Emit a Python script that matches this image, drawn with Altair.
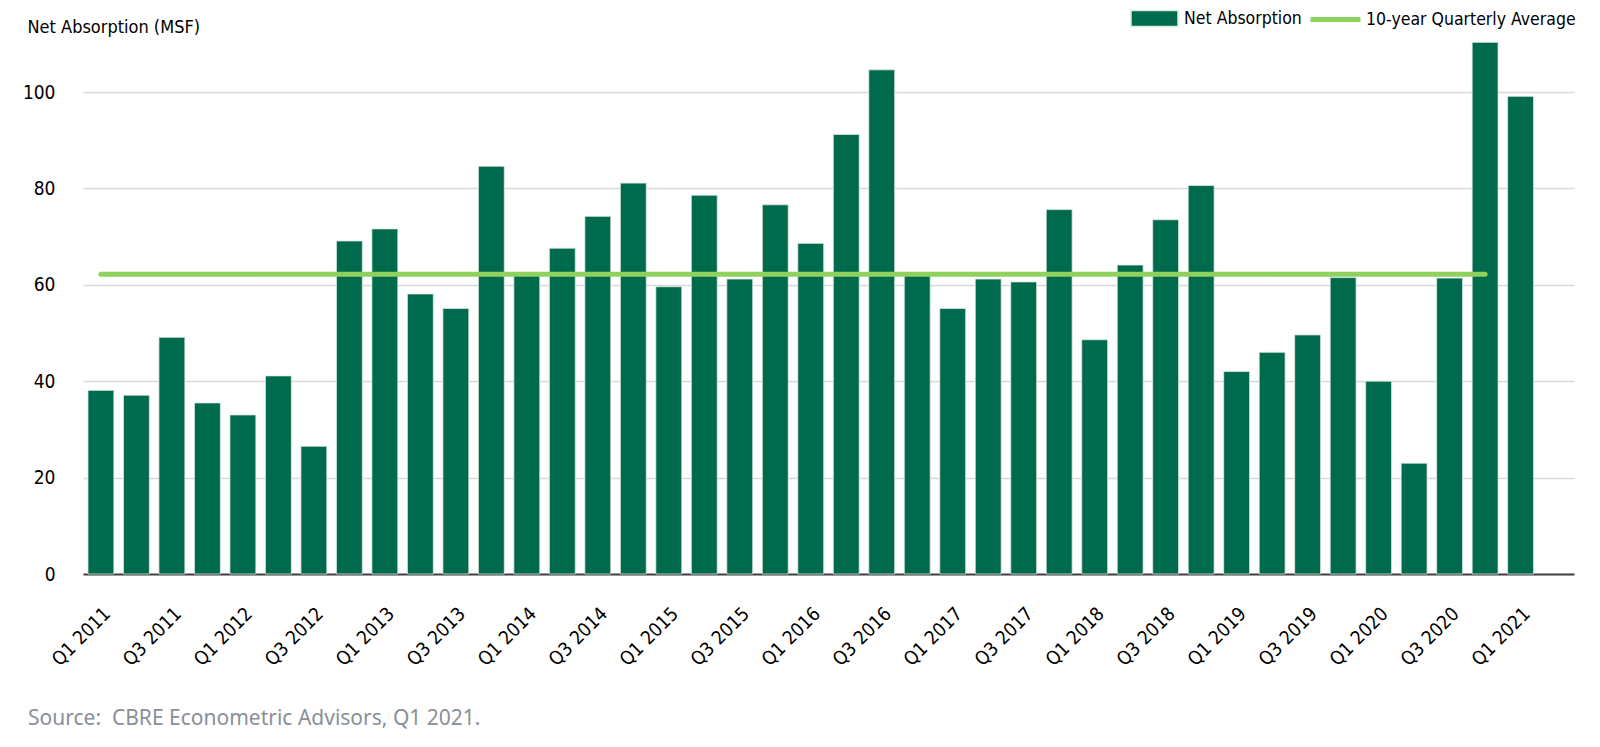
import altair as alt
import pandas as pd

quarters = [
    "Q1 2011", "Q2 2011", "Q3 2011", "Q4 2011",
    "Q1 2012", "Q2 2012", "Q3 2012", "Q4 2012",
    "Q1 2013", "Q2 2013", "Q3 2013", "Q4 2013",
    "Q1 2014", "Q2 2014", "Q3 2014", "Q4 2014",
    "Q1 2015", "Q2 2015", "Q3 2015", "Q4 2015",
    "Q1 2016", "Q2 2016", "Q3 2016", "Q4 2016",
    "Q1 2017", "Q2 2017", "Q3 2017", "Q4 2017",
    "Q1 2018", "Q2 2018", "Q3 2018", "Q4 2018",
    "Q1 2019", "Q2 2019", "Q3 2019", "Q4 2019",
    "Q1 2020", "Q2 2020", "Q3 2020", "Q4 2020",
    "Q1 2021",
]
# the category axis keeps one empty slot after the last quarter
x_domain = quarters + ["Q2 2021"]

net_absorption = [
    38.1, 37.1, 49.1, 35.5, 33.0, 41.1, 26.5, 69.1, 71.6, 58.1,
    55.1, 84.6, 62.0, 67.6, 74.2, 81.1, 59.6, 78.6, 61.2, 76.6,
    68.6, 91.2, 104.6, 62.0, 55.1, 61.2, 60.6, 75.6, 48.6, 64.1,
    73.5, 80.6, 42.0, 46.0, 49.6, 61.5, 40.0, 23.0, 61.4, 110.3,
    99.1,
]

avg_quarters = quarters[:40]
avg_values = [62.2] * 40

tick_labels = [
    "Q1 2011", "Q3 2011", "Q1 2012", "Q3 2012", "Q1 2013", "Q3 2013",
    "Q1 2014", "Q3 2014", "Q1 2015", "Q3 2015", "Q1 2016", "Q3 2016",
    "Q1 2017", "Q3 2017", "Q1 2018", "Q3 2018", "Q1 2019", "Q3 2019",
    "Q1 2020", "Q3 2020", "Q1 2021",
]
y_ticks = [0, 20, 40, 60, 80, 100]

bar_name = "Net Absorption"
avg_name = "10-year Quarterly Average"
source_text = "Source:\u00a0 CBRE Econometric Advisors, Q1 2021."

bars_df = pd.DataFrame({"quarter": quarters, "value": net_absorption, "series": bar_name})
avg_df = pd.DataFrame({"quarter": avg_quarters, "value": avg_values, "series": avg_name})

FONT = "DejaVu Sans Condensed, Roboto, sans-serif"
DARK = "#006a4d"
LIGHT = "#8fd15e"

x_enc = alt.X(
    "quarter:N",
    sort=x_domain,
    scale=alt.Scale(domain=x_domain, paddingInner=0.27, paddingOuter=0.14),
    axis=alt.Axis(
        values=tick_labels,
        labelAngle=-45,
        labelAlign="right",
        labelBaseline="top",
        labelFontSize=19,
        labelFont=FONT,
        labelColor="#000000",
        labelPadding=30,
        labelOffset=0,
        ticks=False,
        domain=True,
        domainColor="#404040",
        domainWidth=2,
        grid=False,
        title=None,
    ),
)

y_enc = alt.Y(
    "value:Q",
    scale=alt.Scale(domain=[0, 111], nice=False),
    axis=alt.Axis(
        values=y_ticks,
        labelFontSize=19,
        labelFont=FONT,
        labelColor="#000000",
        labelPadding=28,
        ticks=False,
        domain=False,
        grid=True,
        gridColor="#d9d9d9",
        gridWidth=1.5,
        title="Net Absorption (MSF)",
        titleAngle=0,
        titleX=-56,
        titleY=-7,
        titleAlign="left",
        titleBaseline="alphabetic",
        titleFont=FONT,
        titleFontSize=18,
        titleFontWeight="normal",
        titleColor="#000000",
    ),
)

bars = alt.Chart(bars_df).mark_bar(stroke="#dfe9e3", strokeWidth=0.8).encode(
    x=x_enc,
    y=y_enc,
    color=alt.Color(
        "series:N",
        scale=alt.Scale(domain=[bar_name], range=[DARK]),
        legend=alt.Legend(
            title=None,
            orient="none",
            legendX=1047,
            legendY=-45,
            symbolType="M-1,-0.34H1V0.34H-1Z",
            symbolSize=2209,
            labelFont=FONT,
            labelFontSize=17.5,
            labelColor="#000000",
            labelOffset=5,
            labelLimit=0,
        ),
    ),
)

line = alt.Chart(avg_df).mark_line(strokeWidth=5, strokeCap="round").encode(
    x=x_enc,
    y=alt.Y("value:Q"),
    color=alt.Color(
        "series:N",
        scale=alt.Scale(domain=[avg_name], range=[LIGHT]),
        legend=alt.Legend(
            title=None,
            orient="none",
            legendX=1225,
            legendY=-47,
            symbolType="stroke",
            symbolSize=2500,
            symbolStrokeWidth=5,
            labelFont=FONT,
            labelFontSize=17.5,
            labelColor="#000000",
            labelOffset=3,
            labelLimit=0,
        ),
    ),
)

chart = (
    alt.layer(bars, line)
    .resolve_scale(color="independent")
    .properties(
        width=1491,
        height=535,
        padding={"left": 75, "top": 31, "right": 18, "bottom": 159},
        autosize=alt.AutoSizeParams(type="none"),
        title=alt.TitleParams(
            text=source_text,
            orient="bottom",
            anchor="start",
            frame="group",
            baseline="alphabetic",
            dx=-55,
            offset=56,
            font="Noto Sans",
            fontSize=21,
            fontWeight="normal",
            color="#8a9097",
        ),
    )
    .configure_view(stroke=None)
)

chart.save("out.html", embed_options={"renderer": "svg", "actions": False})
